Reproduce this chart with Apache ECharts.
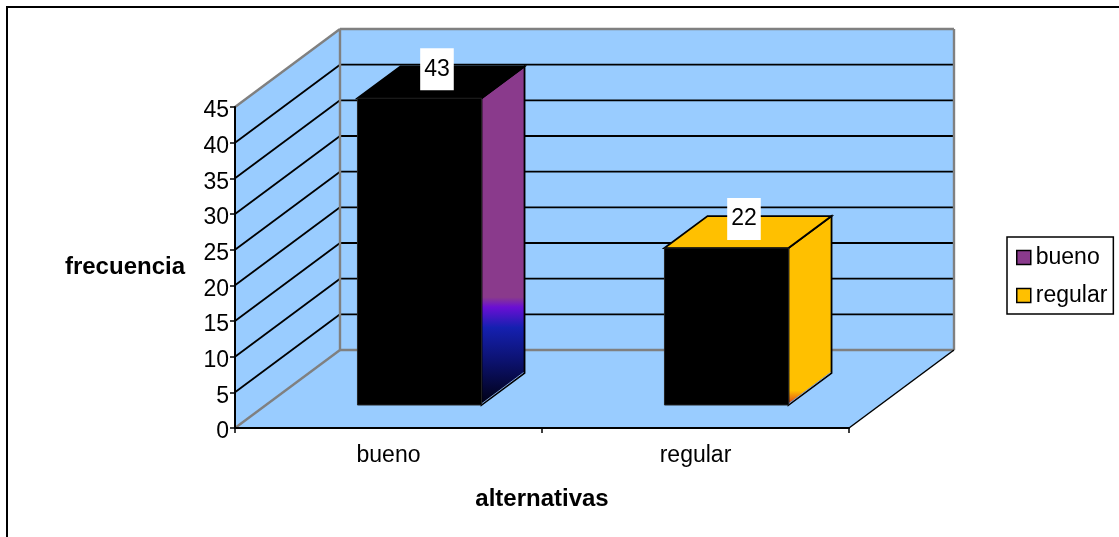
<!DOCTYPE html>
<html>
<head>
<meta charset="utf-8">
<style>html,body{margin:0;padding:0;background:#fff}#c{width:1119px;height:537px}</style>
<script src="https://cdn.jsdelivr.net/npm/echarts@6/dist/echarts.min.js"></script>
</head>
<body>
<div id="c"></div>
<script>
// Chart content
const categories = ['bueno', 'regular'];
const buenoValues = [43];
const regularValues = [22];
const valueTicks = [5, 10, 15, 20, 25, 30, 35, 40];
const axisMax = 45;
const axisStep = 5;

// Oblique projection of the floor depth, in pixels
const DEPTH_X = 105, DEPTH_Y = 78;
const BAR_WIDTH_RATIO = 0.404;
const BAR_DEPTH_FROM = 0.295, BAR_DEPTH_TO = 0.705;
const FONT = '"Liberation Sans", Arial, sans-serif';
const WALL = '#99CCFF', EDGE = '#808080';

const chart = echarts.init(document.getElementById('c'), null, { renderer: 'canvas' });

function line(x1, y1, x2, y2, stroke, lineWidth) {
  return { type: 'line', shape: { x1, y1, x2, y2 }, style: { stroke, lineWidth } };
}
function poly(points, fill, stroke, lineWidth) {
  return { type: 'polygon', shape: { points }, style: { fill, stroke: stroke || 'none', lineWidth: lineWidth || 0 } };
}

// Left wall, back wall and floor of the box
function renderPlanes(params, api) {
  const cs = params.coordSys;
  const l = cs.x, r = cs.x + cs.width;
  const b = api.coord([0, 0])[1], t = api.coord([0, axisMax])[1];
  const dx = DEPTH_X, dy = DEPTH_Y;
  return { type: 'group', children: [
    poly([[l, b], [l + dx, b - dy], [l + dx, t - dy], [l, t]], WALL),
    poly([[l + dx, t - dy], [r + dx, t - dy], [r + dx, b - dy], [l + dx, b - dy]], WALL),
    poly([[l, b], [l + dx, b - dy], [r + dx, b - dy], [r, b]], WALL)
  ] };
}

// Wall and floor edges, laid over the gridlines
function renderEdges(params, api) {
  const cs = params.coordSys;
  const l = cs.x, r = cs.x + cs.width;
  const b = api.coord([0, 0])[1], t = api.coord([0, axisMax])[1];
  const dx = DEPTH_X, dy = DEPTH_Y;
  return { type: 'group', children: [
    line(l, t, l + dx, t - dy, EDGE, 2.4),
    line(l + dx, t - dy, r + dx, t - dy, EDGE, 2.4),
    line(r + dx, t - dy, r + dx, b - dy, EDGE, 2.4),
    line(l + dx, t - dy, l + dx, b - dy, EDGE, 2.4),
    line(l + dx, b - dy, r + dx, b - dy, EDGE, 2.4),
    line(l, b, l + dx, b - dy, EDGE, 2.4),
    line(r, b, r + dx, b - dy, '#000', 1.5)
  ] };
}

// One gridline per tick, running along the left wall and across the back wall
function renderGridline(params, api) {
  const cs = params.coordSys;
  const l = cs.x, r = cs.x + cs.width;
  const y = api.coord([0, api.value(1)])[1];
  return { type: 'group', children: [
    line(l, y, l + DEPTH_X, y - DEPTH_Y, '#000', 1.8),
    line(l + DEPTH_X, y - DEPTH_Y, r + DEPTH_X, y - DEPTH_Y, '#000', 1.8)
  ] };
}

// A box standing on the floor: black front, tinted side, labelled top
function renderBox(sideStops, topFill) {
  return function (params, api) {
    const cat = api.value(0), val = api.value(1);
    const base = api.coord([cat, 0]), top = api.coord([cat, val]);
    const w = api.size([1, 0])[0] * BAR_WIDTH_RATIO;
    const ox = DEPTH_X * BAR_DEPTH_FROM, oy = DEPTH_Y * BAR_DEPTH_FROM;
    const ddx = DEPTH_X * (BAR_DEPTH_TO - BAR_DEPTH_FROM), ddy = DEPTH_Y * (BAR_DEPTH_TO - BAR_DEPTH_FROM);
    const x0 = base[0] + ox - w / 2, x1 = x0 + w;
    const yb = base[1] - oy, yt = top[1] - oy;
    const side = new echarts.graphic.LinearGradient(0, 0, 0, 1, sideStops);
    return { type: 'group', children: [
      poly([[x1, yt], [x1 + ddx, yt - ddy], [x1 + ddx, yb - ddy], [x1, yb]], side, '#000', 1.8),
      line(x1 + 0.5, yb - 1.5, x1 + ddx - 1, yb - ddy - 0.5, '#7F9FD0', 1),
      poly([[x0, yt], [x0 + ddx, yt - ddy], [x1 + ddx, yt - ddy], [x1, yt]], topFill, '#000', 1.8),
      poly([[x0, yt], [x1, yt], [x1, yb], [x0, yb]], '#000', '#222', 1),
      {
        type: 'text',
        style: {
          text: String(val), x: x0 + w / 2 + 17.5, y: yt - 29,
          align: 'center', verticalAlign: 'middle',
          font: '23px ' + FONT, fill: '#000',
          backgroundColor: '#fff', padding: [10, 4, 9, 4]
        }
      }
    ] };
  };
}

const buenoSide = [
  { offset: 0, color: '#8A3A8C' }, { offset: 0.681, color: '#8A3A8C' },
  { offset: 0.71, color: '#6A0FD4' }, { offset: 0.77, color: '#1520B0' },
  { offset: 0.867, color: '#0C1270' }, { offset: 1, color: '#000010' }
];
const regularSide = [
  { offset: 0, color: '#FFC000' }, { offset: 0.92, color: '#FFC000' },
  { offset: 0.965, color: '#E87010' }, { offset: 1, color: '#B02850' }
];

chart.setOption({
  animation: false,
  backgroundColor: '#fff',
  grid: { left: 235, right: 270, top: 107, bottom: 109, show: false },
  graphic: [{
    type: 'rect', silent: true,
    shape: { x: 7, y: 7, width: 1300, height: 700 },
    style: { fill: 'none', stroke: '#000', lineWidth: 2 }
  }],
  legend: {
    left: 1007, top: 237, orient: 'vertical',
    data: categories,
    icon: 'rect', itemWidth: 14, itemHeight: 14, itemGap: 15,
    padding: [9, 6, 7, 9],
    backgroundColor: '#fff', borderColor: '#000', borderWidth: 1.5, borderRadius: 0,
    selectedMode: false,
    itemStyle: { borderColor: '#000', borderWidth: 1.5 },
    textStyle: { fontFamily: FONT, fontSize: 23, color: '#000' }
  },
  xAxis: {
    type: 'category', data: categories, z: 10,
    name: 'alternativas', nameLocation: 'middle', nameGap: 59,
    nameTextStyle: { fontFamily: FONT, fontSize: 24, fontWeight: 'bold', color: '#000' },
    axisLine: { lineStyle: { color: '#000', width: 2 } },
    axisTick: { show: true, length: 5, alignWithLabel: false, lineStyle: { color: '#000', width: 1.5 } },
    axisLabel: { fontFamily: FONT, fontSize: 23, color: '#000', margin: 16 }
  },
  yAxis: {
    type: 'value', min: 0, max: axisMax, interval: axisStep, z: 10,
    name: 'frecuencia', nameLocation: 'middle', nameRotate: 0, nameGap: 50,
    nameTextStyle: { fontFamily: FONT, fontSize: 24, fontWeight: 'bold', color: '#000' },
    axisLine: { show: true, lineStyle: { color: '#000', width: 2 } },
    axisTick: { show: true, length: 5, lineStyle: { color: '#000', width: 1.5 } },
    axisLabel: { fontFamily: FONT, fontSize: 23, color: '#000', margin: 6, verticalAlign: 'top', lineHeight: 8 },
    splitLine: { show: false }
  },
  series: [
    { type: 'custom', name: 'planes', z: 1, clip: false, silent: true,
      renderItem: renderPlanes, data: [[0, 0]] },
    { type: 'custom', name: 'gridlines', z: 2, clip: false, silent: true,
      renderItem: renderGridline, data: valueTicks.map(v => [0, v]) },
    { type: 'custom', name: 'edges', z: 3, clip: false, silent: true,
      renderItem: renderEdges, data: [[0, 0]] },
    { type: 'custom', name: categories[0], z: 4, clip: false, silent: true,
      itemStyle: { color: '#8A3A8C' },
      renderItem: renderBox(buenoSide, '#000'),
      data: buenoValues.map(v => [0, v]) },
    { type: 'custom', name: categories[1], z: 5, clip: false, silent: true,
      itemStyle: { color: '#FFC000' },
      renderItem: renderBox(regularSide, '#FFC000'),
      data: regularValues.map(v => [1, v]) }
  ]
});
</script>
</body>
</html>
